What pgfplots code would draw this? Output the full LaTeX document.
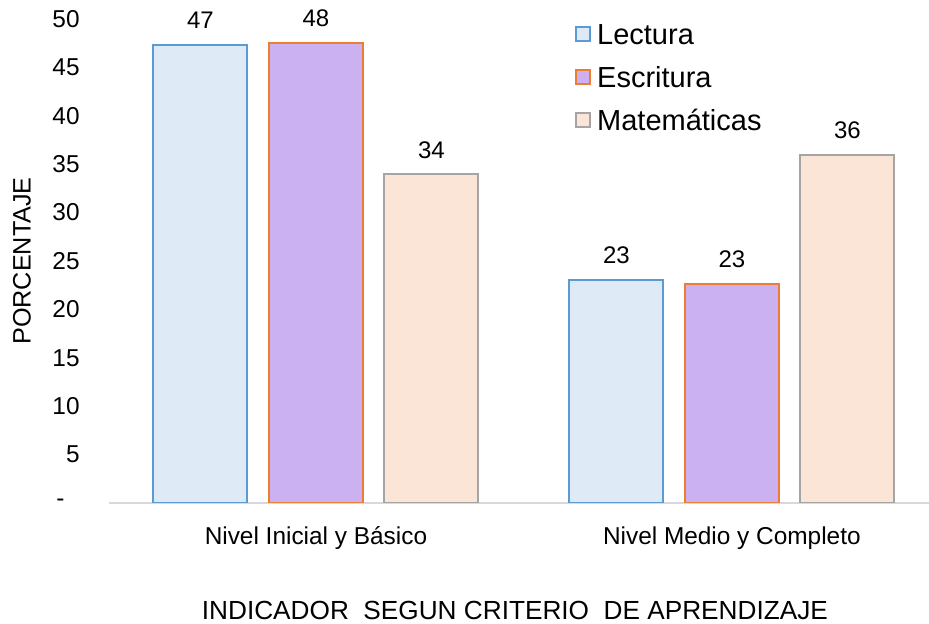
\documentclass[border=0pt]{standalone}
\usepackage{pgfplots}
\pgfplotsset{compat=1.18}
\usepackage{fontspec}
\setmainfont{Liberation Sans}
\definecolor{lecFill}{HTML}{DEEBF7}
\definecolor{lecLine}{HTML}{5B9BD5}
\definecolor{escFill}{HTML}{CBB1F2}
\definecolor{escLine}{HTML}{ED7D31}
\definecolor{matFill}{HTML}{FBE5D6}
\definecolor{matLine}{HTML}{A5A5A5}
\definecolor{baseGray}{HTML}{D9D9D9}
\begin{document}
\begin{tikzpicture}
\path[use as bounding box] (-54.5pt,-60.5pt) rectangle (410pt,251.5pt);
\begin{axis}[
  at={(0pt,0pt)}, anchor=south west,
  scale only axis, width=410pt, height=242pt,
  xmin=-0.4976, xmax=1.474, ymin=0, ymax=50,
  ybar=10.75pt, bar width=47pt,
  axis x line*=bottom, axis y line*=left,
  x axis line style={draw=baseGray, line width=1pt},
  y axis line style={draw=none},
  major tick length=0pt,
  xtick={0,1}, xticklabels={Nivel Inicial y Básico, Nivel Medio y Completo},
  ytick={0,5,...,50}, yticklabels={{-\rule{7.5pt}{0pt}},5,10,15,20,25,30,35,40,45,50},
  tick label style={font=\fontsize{12.2}{14}\selectfont},
  yticklabel style={anchor=east, inner sep=0pt, xshift=-14.5pt},
  xticklabel style={anchor=base, inner sep=0pt, yshift=-21pt},
  ylabel={PORCENTAJE},
  every axis y label/.style={at={(axis description cs:0,0.5)}, xshift=-43.5pt, rotate=90, anchor=center, font=\fontsize{12.6}{14}\selectfont},
  xlabel={INDICADOR\ \ SEGUN CRITERIO\ \ DE APRENDIZAJE},
  every axis x label/.style={at={(axis description cs:0.495,0)}, yshift=-58pt, anchor=base, font=\fontsize{13.1}{15}\selectfont},
  /pgf/number format/assume math mode=true,
  nodes near coords,
  nodes near coords style={font=\fontsize{12}{14}\selectfont, anchor=base, inner sep=0pt, yshift=8pt, text=black},
  /pgf/number format/.cd, fixed, precision=0, /pgfplots/.cd,
  legend style={at={(axis description cs:0.568,1)}, yshift=-2pt, anchor=north west, draw=none, fill=none, inner sep=0pt,
    font=\fontsize{14.5}{17}\selectfont, row sep=8pt,
    nodes={inner sep=0pt, text height=10.5pt, text depth=3pt},
    /tikz/every odd column/.append style={column sep=3pt}},
  legend cell align=left,
  legend image code/.code={\draw[#1, line width=1pt] (0.5pt,-2pt) rectangle (7.5pt,5pt);},
]
\addplot[fill=lecFill, draw=lecLine, line width=1pt] coordinates {(0,47.35) (1,23.05)};
\addlegendentry{Lectura}
\addplot[fill=escFill, draw=escLine, line width=1pt] coordinates {(0,47.55) (1,22.65)};
\addlegendentry{Escritura}
\addplot[fill=matFill, draw=matLine, line width=1pt] coordinates {(0,33.95) (1,35.95)};
\addlegendentry{Matemáticas}
\end{axis}
\end{tikzpicture}
\end{document}
